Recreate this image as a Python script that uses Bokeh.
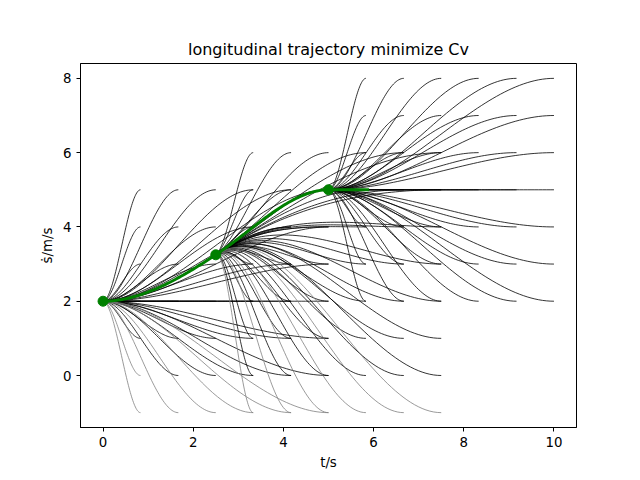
import numpy as np
from bokeh.plotting import figure
from bokeh.models import Range1d, FixedTicker
from bokeh.embed import file_html
from bokeh.resources import INLINE

# lattice stages: start state (t0, v0, a0), target speeds and durations
stage_starts = [(0.0, 2.0, 0.0), (2.5, 3.25, 0.8), (5.0, 5.0, 0.0)]
stage_targets = [
    [5, 4, 3, 2, 1, 0, -1],
    [6, 5, 4, 3, 2, 1, 0, -1],
    [8, 7, 6, 5, 4, 3, 2],
]
durations = [0.83, 1.67, 2.5, 3.33, 4.17, 5.0]

# best path knots (t, v, a)
best_t = [0.0, 2.5, 5.0, 5.9]
best_v = [2.0, 3.25, 5.0, 5.0]
best_a = [0.0, 0.8, 0.0, 0.0]


def speed_curve(v0, a0, v1, T, n=60):
    # cubic speed profile (quartic in s) with a(T) = 0
    A = np.array([[T**2, T**3], [2 * T, 3 * T**2]])
    b = np.array([v1 - v0 - a0 * T, -a0])
    c2, c3 = np.linalg.solve(A, b)
    t = np.linspace(0, T, n)
    return t, v0 + a0 * t + c2 * t**2 + c3 * t**3


p = figure(width=640, height=480, output_backend="svg", toolbar_location=None,
           title="longitudinal trajectory minimize Cv",
           x_range=Range1d(-0.5, 10.5), y_range=Range1d(-1.4, 8.4),
           min_border_left=80, min_border_right=64, min_border_top=63, min_border_bottom=53)
p.title.align = "center"
p.title.text_font = "DejaVu Sans"
p.title.text_font_size = "12pt"
p.title.text_font_style = "normal"
p.title.text_color = "black"
p.xgrid.visible = False
p.ygrid.visible = False
p.outline_line_color = "black"
p.xaxis.ticker = FixedTicker(ticks=[0, 2, 4, 6, 8, 10])
p.yaxis.ticker = FixedTicker(ticks=[0, 2, 4, 6, 8])
p.xaxis.axis_label = "t/s"
p.yaxis.axis_label = "ṡ/m/s"
for ax in (p.xaxis, p.yaxis):
    ax.minor_tick_line_color = None
    ax.major_label_text_font = "DejaVu Sans"
    ax.major_label_text_font_size = "10pt"
    ax.major_label_text_color = "black"
    ax.axis_label_text_font = "DejaVu Sans"
    ax.axis_label_text_font_size = "10pt"
    ax.axis_label_text_font_style = "normal"
    ax.axis_label_text_color = "black"
    ax.major_tick_out = 4
    ax.major_tick_in = 0

for (t0, v0, a0), targets in zip(stage_starts, stage_targets):
    for v1 in targets:
        for T in durations:
            t, v = speed_curve(v0, a0, v1, T)
            grey = v1 < 0 or (v1 == 0 and T < 1 and t0 == 0)
            p.line(t + t0, v, line_color="gray" if grey else "black", line_width=0.8)

for i in range(3):
    T = best_t[i + 1] - best_t[i]
    t = np.linspace(0, T, 60)
    v0, v1, a0, a1 = best_v[i], best_v[i + 1], best_a[i], best_a[i + 1]
    h00 = 2 * (t / T)**3 - 3 * (t / T)**2 + 1
    h10 = (t / T)**3 - 2 * (t / T)**2 + t / T
    h01 = -2 * (t / T)**3 + 3 * (t / T)**2
    h11 = (t / T)**3 - (t / T)**2
    v = h00 * v0 + h10 * T * a0 + h01 * v1 + h11 * T * a1
    p.line(t + best_t[i], v, line_color="green", line_width=3)
p.scatter(best_t[:3], best_v[:3], size=10, color="green")

open("out.html", "w").write(file_html(p, INLINE))
